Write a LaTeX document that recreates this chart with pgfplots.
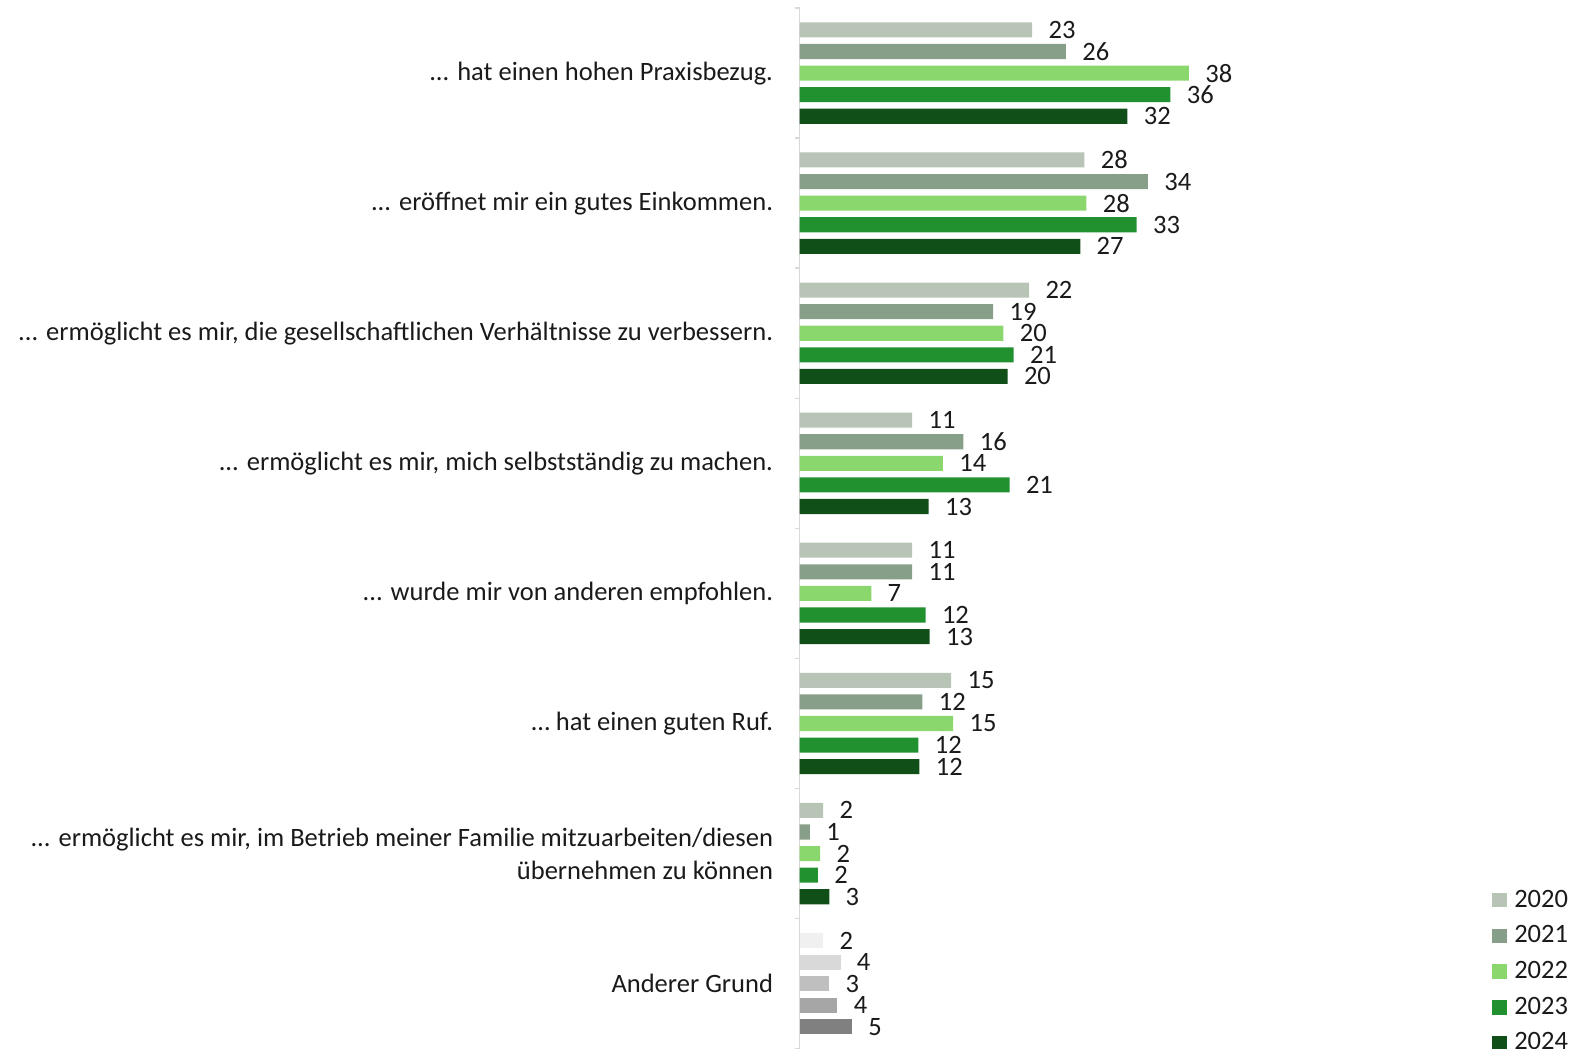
\documentclass[border=0pt,12pt]{standalone}
\usepackage{fontspec}
\setmainfont{Carlito}
\usepackage{pgfplots}
\pgfplotsset{compat=1.18}
\usepackage{pgfplotstable}
\usetikzlibrary{calc}

\definecolor{c2020}{HTML}{B7C4B6}
\definecolor{c2021}{HTML}{879E88}
\definecolor{c2022}{HTML}{8AD76E}
\definecolor{c2023}{HTML}{21912F}
\definecolor{c2024}{HTML}{114F18}
\definecolor{g1}{HTML}{F0F0F0}
\definecolor{g2}{HTML}{D9D9D9}
\definecolor{g3}{HTML}{BFBFBF}
\definecolor{g4}{HTML}{A6A6A6}
\definecolor{g5}{HTML}{808080}
\definecolor{txt}{HTML}{1A1A1A}
\definecolor{axln}{HTML}{D9D9D9}

\newcommand{\dd}{...}

% Anteile in Prozent, Kategorien 0..6 von oben nach unten
\pgfplotstableread{
pos v2020 v2021 v2022 v2023 v2024
0 22.7 26.0 38.0 36.2 32.0
1 27.8 34.0 28.0 32.9 27.4
2 22.4 18.9 19.9 20.9 20.3
3 11.0 16.0 14.0 20.5 12.6
4 11.0 11.0  7.0 12.3 12.7
5 14.8 12.0 15.0 11.6 11.7
6  2.3  1.0  2.0  1.8  2.9
}\main

% Anderer Grund (graue Balken)
\pgfplotstableread{
pos v2020 v2021 v2022 v2023 v2024
7 2.3 4.0 2.9 3.7 5.1
}\other

\begin{document}
\begin{tikzpicture}[font=\fontsize{13.2}{15.8}\selectfont]
\begin{axis}[
    xbar,
    x=5.1pt, y=64.75pt,
    xmin=0, xmax=76,
    ymin=-0.5, ymax=7.5,
    y dir=reverse,
    axis x line=none,
    axis y line*=left,
    y axis line style={draw=axln, line width=0.75pt},
    ytick={0,1,2,3,4,5,6,7},
    yticklabels={
        {\dd{} hat einen hohen Praxisbezug.},
        {\dd{} eröffnet mir ein gutes Einkommen.},
        {\dd{} ermöglicht es mir, die gesellschaftlichen Verhältnisse zu verbessern.},
        {\dd{} ermöglicht es mir, mich selbstständig zu machen.},
        {\dd{} wurde mir von anderen empfohlen.},
        {… hat einen guten Ruf.},
        {\dd{} ermöglicht es mir, im Betrieb meiner Familie mitzuarbeiten/diesen\\übernehmen zu können},
        {Anderer Grund}},
    yticklabel style={align=right, inner xsep=0pt, xshift=-13pt, text=txt,
        font=\fontsize{13.2}{16.5}\selectfont},
    major tick length=0pt,
    minor ytick={-0.5,0.5,1.5,2.5,3.5,4.5,5.5,6.5,7.5},
    minor tick length=2.5pt,
    tick align=outside,
    minor tick style={draw=axln, line width=0.75pt},
    bar width=7.5pt,
    point meta=x,
    nodes near coords={\pgfmathprintnumber[fixed,precision=0,assume math mode=true]{\pgfplotspointmeta}},
    nodes near coords style={text=txt, inner xsep=0pt, inner ysep=0pt, xshift=8pt,
        anchor=west, font=\fontsize{13.2}{15.8}\selectfont},
    legend style={at={(0.889,0.155)}, anchor=north west, draw=none, fill=none,
        inner sep=0pt, row sep=5.4pt, text=txt,
        font=\fontsize{13.2}{15.8}\selectfont,
        nodes={inner sep=1pt, anchor=west},
        /tikz/every odd column/.append style={column sep=2.5pt}},
    legend cell align=left,
    legend image code/.code={\fill[#1] (0pt,-3.6pt) rectangle (7.5pt,3.6pt);},
    clip=false,
]
\addplot[fill=c2020, draw=none, bar shift=21.5pt] table[x=v2020, y=pos] {\main};
\addplot[fill=c2021, draw=none, bar shift=10.75pt] table[x=v2021, y=pos] {\main};
\addplot[fill=c2022, draw=none, bar shift=0pt] table[x=v2022, y=pos] {\main};
\addplot[fill=c2023, draw=none, bar shift=-10.75pt] table[x=v2023, y=pos] {\main};
\addplot[fill=c2024, draw=none, bar shift=-21.5pt] table[x=v2024, y=pos] {\main};
\legend{2020,2021,2022,2023,2024}

\addplot[fill=g1, draw=none, bar shift=21.5pt, forget plot] table[x=v2020, y=pos] {\other};
\addplot[fill=g2, draw=none, bar shift=10.75pt, forget plot] table[x=v2021, y=pos] {\other};
\addplot[fill=g3, draw=none, bar shift=0pt, forget plot] table[x=v2022, y=pos] {\other};
\addplot[fill=g4, draw=none, bar shift=-10.75pt, forget plot] table[x=v2023, y=pos] {\other};
\addplot[fill=g5, draw=none, bar shift=-21.5pt, forget plot] table[x=v2024, y=pos] {\other};

\coordinate (TL) at (axis cs:0,-0.5);
\end{axis}
\pgfresetboundingbox
\path[use as bounding box] ($(TL)+(-398pt,4pt)$) rectangle ($(TL)+(386pt,-518pt)$);
\end{tikzpicture}
\end{document}
